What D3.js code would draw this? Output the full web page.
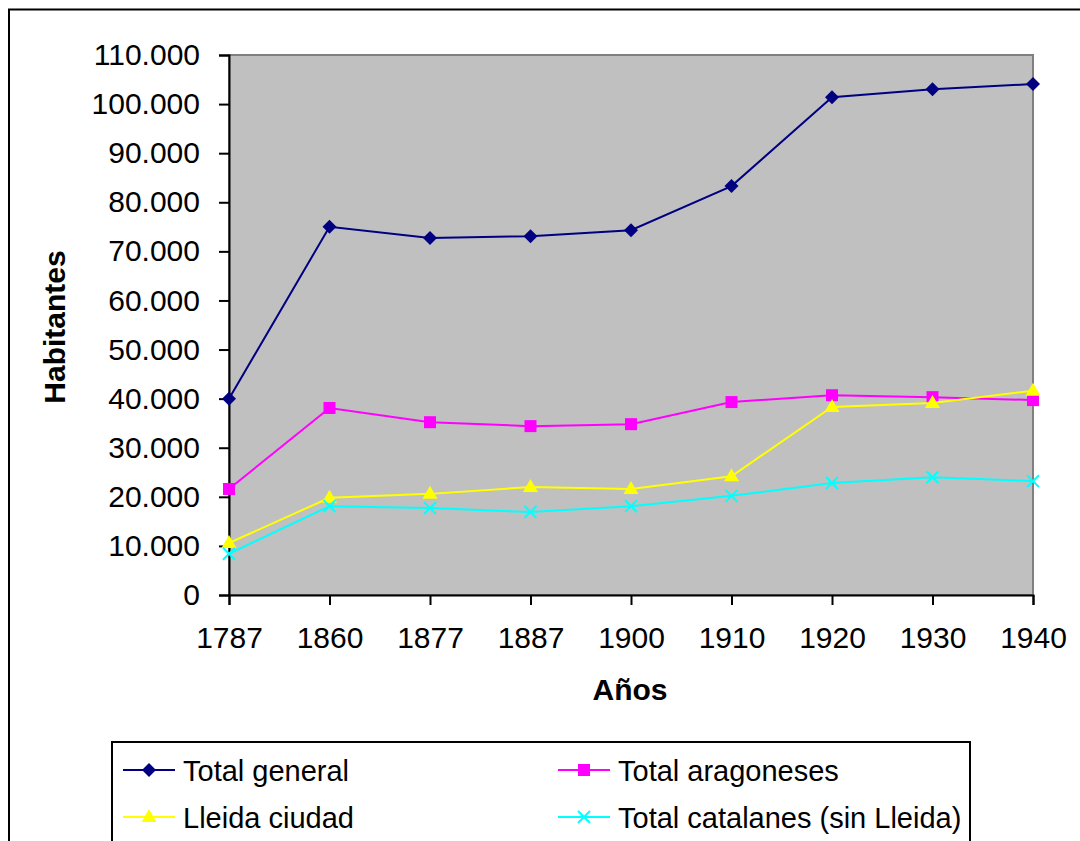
<!DOCTYPE html>
<html>
<head>
<meta charset="utf-8">
<script src="https://cdn.jsdelivr.net/npm/d3@7"></script>
<style>
  body { margin: 0; background: #fff; }
  svg text { font-family: "Liberation Sans", Arial, sans-serif; fill: #000; }
</style>
</head>
<body>
<div id="chart"></div>
<script>
const years = ["1787", "1860", "1877", "1887", "1900", "1910", "1920", "1930", "1940"];
const totalGeneral = [40000, 75000, 72700, 73100, 74300, 83300, 101400, 103000, 104100];
const totalAragoneses = [21600, 38100, 35200, 34400, 34800, 39300, 40700, 40300, 39700];
const lleidaCiudad = [10600, 19800, 20600, 22000, 21600, 24200, 38300, 39100, 41600];
const totalCatalanes = [8400, 18100, 17700, 16900, 18100, 20200, 22800, 24000, 23200];
const yTicks = [0, 10000, 20000, 30000, 40000, 50000, 60000, 70000, 80000, 90000, 100000, 110000];

const series = [
    { name: "Total general", values: totalGeneral, color: "#000080", marker: "diamond" },
    { name: "Total aragoneses", values: totalAragoneses, color: "#FF00FF", marker: "square" },
    { name: "Lleida ciudad", values: lleidaCiudad, color: "#FFFF00", marker: "triangle" },
    { name: "Total catalanes (sin Lleida)", values: totalCatalanes, color: "#00FFFF", marker: "cross" }
];

const width = 1080;
const height = 841;
const plot = { left: 229, right: 1033, top: 55, bottom: 595 };

const svg = d3.select("#chart").append("svg")
    .attr("width", width)
    .attr("height", height);

// outer chart border (runs off the right and bottom edges)
svg.append("rect")
    .attr("x", 9).attr("y", 9.5)
    .attr("width", width + 20).attr("height", height + 20)
    .attr("fill", "#fff")
    .attr("stroke", "#000")
    .attr("stroke-width", 2);

const x = d3.scalePoint().domain(years).range([plot.left, plot.right]).padding(0);
const y = d3.scaleLinear().domain([0, 110000]).range([plot.bottom, plot.top]);

// plot area
svg.append("rect")
    .attr("x", plot.left).attr("y", plot.top)
    .attr("width", plot.right - plot.left).attr("height", plot.bottom - plot.top)
    .attr("fill", "#C0C0C0")
    .attr("stroke", "#808080")
    .attr("stroke-width", 2);

const fmt = v => v === 0 ? "0" : d3.format(",")(v).replace(/,/g, ".");

// y axis
const yAxis = svg.append("g")
    .attr("transform", `translate(${plot.left},0)`)
    .call(d3.axisLeft(y).tickValues(yTicks).tickFormat(fmt).tickSize(10).tickPadding(19));
yAxis.select(".domain").attr("stroke", "#000").attr("stroke-width", 2);
yAxis.selectAll(".tick line").attr("stroke", "#000").attr("stroke-width", 2);
yAxis.selectAll("text").style("font-size", "30px").attr("fill", "#000");

// x axis
const xAxis = svg.append("g")
    .attr("transform", `translate(0,${plot.bottom})`)
    .call(d3.axisBottom(x).tickSize(10).tickPadding(22));
xAxis.select(".domain").attr("stroke", "#000").attr("stroke-width", 2);
xAxis.selectAll(".tick line").attr("stroke", "#000").attr("stroke-width", 2);
xAxis.selectAll("text").style("font-size", "30px").attr("fill", "#000");

// axis titles
svg.append("text")
    .attr("transform", `translate(65,327) rotate(-90)`)
    .attr("text-anchor", "middle")
    .style("font-size", "30px").style("font-weight", "bold")
    .text("Habitantes");
svg.append("text")
    .attr("x", 630).attr("y", 700)
    .attr("text-anchor", "middle")
    .style("font-size", "30px").style("font-weight", "bold")
    .text("Años");

function drawMarker(g, type, color, cx, cy) {
    if (type === "diamond") {
        g.append("path").attr("d", `M${cx},${cy - 7}L${cx + 7},${cy}L${cx},${cy + 7}L${cx - 7},${cy}Z`)
            .attr("fill", color);
    } else if (type === "square") {
        g.append("rect").attr("x", cx - 6).attr("y", cy - 6).attr("width", 12).attr("height", 12)
            .attr("fill", color);
    } else if (type === "triangle") {
        g.append("path").attr("d", `M${cx},${cy - 8}L${cx + 7.5},${cy + 5}L${cx - 7.5},${cy + 5}Z`)
            .attr("fill", color);
    } else {
        g.append("path").attr("d", `M${cx - 6},${cy - 6}L${cx + 6},${cy + 6}M${cx - 6},${cy + 6}L${cx + 6},${cy - 6}`)
            .attr("stroke", color).attr("stroke-width", 2).attr("fill", "none");
    }
}

const line = d3.line().x((d, i) => x(years[i])).y(d => y(d));

series.forEach(s => {
    const g = svg.append("g");
    g.append("path")
        .datum(s.values)
        .attr("d", line)
        .attr("fill", "none")
        .attr("stroke", s.color)
        .attr("stroke-width", 2);
    s.values.forEach((v, i) => drawMarker(g, s.marker, s.color, x(years[i]), y(v)));
});

// legend
const legend = svg.append("g");
legend.append("rect")
    .attr("x", 112).attr("y", 742)
    .attr("width", 858).attr("height", 110)
    .attr("fill", "#fff").attr("stroke", "#000").attr("stroke-width", 2);

const legendPos = [
    { x: 123, y: 770 }, { x: 558, y: 770 },
    { x: 123, y: 817 }, { x: 558, y: 817 }
];
series.forEach((s, i) => {
    const p = legendPos[i];
    const g = legend.append("g");
    g.append("line")
        .attr("x1", p.x).attr("x2", p.x + 52)
        .attr("y1", p.y).attr("y2", p.y)
        .attr("stroke", s.color).attr("stroke-width", 2);
    drawMarker(g, s.marker, s.color, p.x + 26, p.y);
    g.append("text")
        .attr("x", p.x + 60).attr("y", p.y + 11)
        .style("font-size", "29px")
        .text(s.name);
});
</script>
</body>
</html>
